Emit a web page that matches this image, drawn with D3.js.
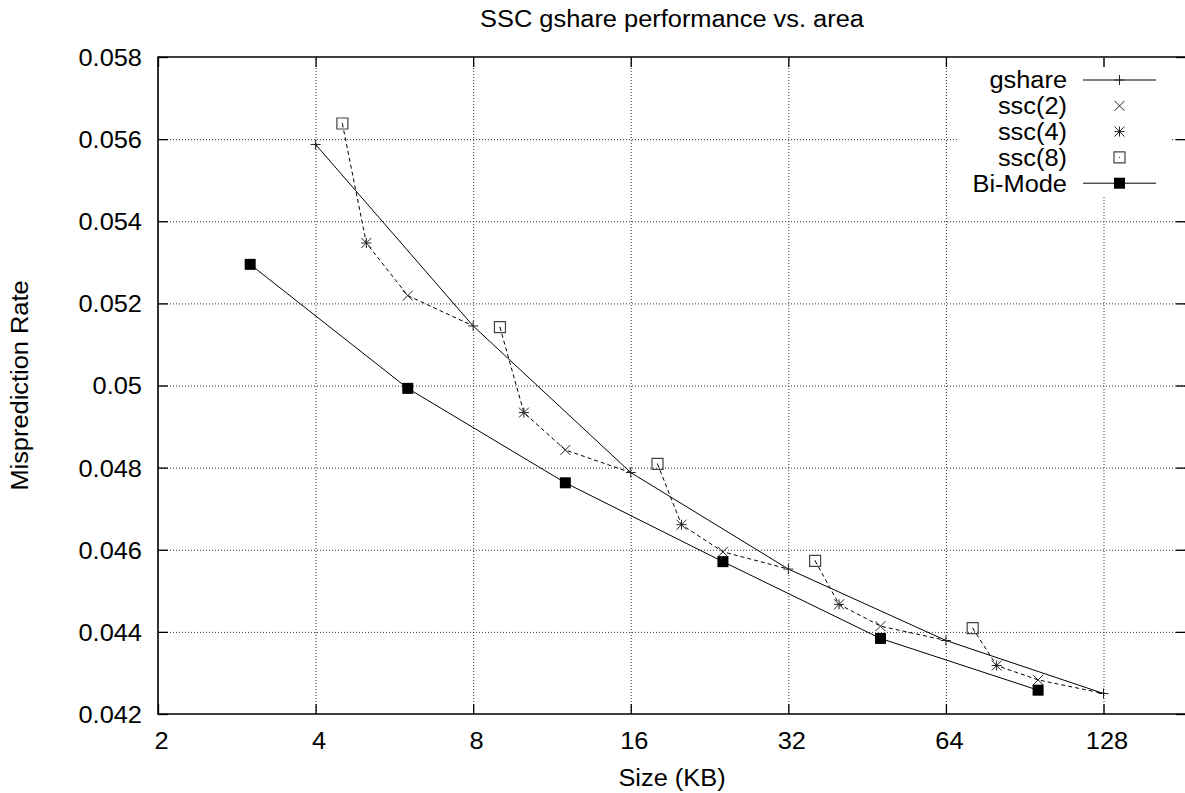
<!DOCTYPE html>
<html>
<head>
<meta charset="utf-8">
<script src="https://cdnjs.cloudflare.com/ajax/libs/d3/7.8.5/d3.min.js"></script>
<style>
  html, body { margin: 0; padding: 0; background: #fff; }
  svg text { font-family: "Liberation Sans", Arial, sans-serif; font-size: 23.3px; fill: #000; }
</style>
</head>
<body>
<svg id="chart"></svg>
<script>
(function(){

  // values
  var gshareSize = [4, 8, 16, 32, 64, 128];
  var gshareRate = [0.05587, 0.05145, 0.04788, 0.04553, 0.04379, 0.04250];
  var ssc2Size = [6, 12, 24, 48, 96];
  var ssc2Rate = [0.05219, 0.04843, 0.04595, 0.04414, 0.04283];
  var ssc4Size = [5, 10, 20, 40, 80];
  var ssc4Rate = [0.05347, 0.04934, 0.04661, 0.04467, 0.04318];
  var ssc8Size = [4.5, 9, 18, 36, 72];
  var ssc8Rate = [0.05638, 0.05142, 0.04809, 0.04573, 0.04409];
  var bimodeSize = [3, 6, 12, 24, 48, 96];
  var bimodeRate = [0.05295, 0.04993, 0.04763, 0.04571, 0.04384, 0.04258];

  var xTicks = [2, 4, 8, 16, 32, 64, 128];
  var yTicks = [0.042, 0.044, 0.046, 0.048, 0.05, 0.052, 0.054, 0.056, 0.058];
  var legendLabels = ['gshare', 'ssc(2)', 'ssc(4)', 'ssc(8)', 'Bi-Mode'];

  var titleText = 'SSC gshare performance vs. area',
      xLabel = 'Size (KB)',
      yLabel = 'Misprediction Rate';

  // layout
  var width = 1185, height = 793;
  var left = 158, top = 57, right = 1186, bottom = 714;
  var stretchX = 1.09;

  var svg = d3.select('#chart')
    .attr('width', width)
    .attr('height', height);

  var x = d3.scaleLog().base(2).domain([2, 128]).range([left, 1103.5]);
  var y = d3.scaleLinear().domain([0.042, 0.058]).range([bottom, top]);

  function zip(xs, ys) {
    return xs.map(function(v, i) { return {x: v, y: ys[i]}; });
  }

  var gshare = zip(gshareSize, gshareRate),
      ssc2 = zip(ssc2Size, ssc2Rate),
      ssc4 = zip(ssc4Size, ssc4Rate),
      ssc8 = zip(ssc8Size, ssc8Rate),
      bimode = zip(bimodeSize, bimodeRate);

  // each dashed run: ssc(8) -> ssc(4) -> ssc(2) -> the next gshare size
  var traces = ssc8.map(function(d, i) {
    return [d, ssc4[i], ssc2[i], gshare[i + 1]];
  });

  // wide-ish text like the reference, anchored where it is placed
  function stretch(sel, extra) {
    sel.each(function() {
      var t = d3.select(this);
      var tx = +t.attr('x') || 0, ty = +t.attr('y') || 0;
      t.attr('x', 0).attr('y', 0)
       .attr('transform', 'translate(' + tx + ',' + ty + ')' + (extra || '') +
             ' scale(' + stretchX + ',1)');
    });
  }

  // grid
  var gridX = svg.append('g')
    .attr('transform', 'translate(0,' + bottom + ')')
    .call(d3.axisBottom(x).tickValues(xTicks.slice(1)).tickSize(-(bottom - top)).tickFormat(''));
  var gridY = svg.append('g')
    .attr('transform', 'translate(' + left + ',0)')
    .call(d3.axisLeft(y).tickValues(yTicks.slice(1, -1)).tickSize(-(right - left)).tickFormat(''));
  [gridX, gridY].forEach(function(g) {
    g.select('.domain').remove();
    g.selectAll('line')
      .attr('stroke', '#333')
      .attr('stroke-width', 1)
      .attr('stroke-dasharray', '1,2');
  });

  // key area blanks the grid behind it
  svg.append('rect')
    .attr('x', 957).attr('y', 66)
    .attr('width', 215).attr('height', 131)
    .attr('fill', '#fff');

  // markers
  var size = 5;
  var markers = {
    plus: 'M' + (-size) + ',0H' + size + 'M0,' + (-size) + 'V' + size,
    cross: 'M' + (-size) + ',' + (-size) + 'L' + size + ',' + size +
           'M' + (-size) + ',' + size + 'L' + size + ',' + (-size),
    star: 'M' + (-size) + ',0H' + size + 'M0,' + (-size) + 'V' + size +
          'M' + (-size) + ',' + (-size) + 'L' + size + ',' + size +
          'M' + (-size) + ',' + size + 'L' + size + ',' + (-size),
    box: 'M-5.5,-5.5H5.5V5.5H-5.5Z',
    dot: 'M-0.5,-0.5H0.5V0.5H-0.5Z'
  };

  function drawMarker(g, kind) {
    if (kind == 'filled') {
      g.append('rect')
        .attr('x', -5.5).attr('y', -5.5)
        .attr('width', 11).attr('height', 11)
        .attr('fill', '#000');
    } else if (kind == 'box') {
      g.append('path').attr('d', markers.box)
        .attr('fill', 'none').attr('stroke', '#444').attr('stroke-width', 1.2);
      g.append('path').attr('d', markers.dot).attr('fill', '#333');
    } else {
      g.append('path').attr('d', markers[kind])
        .attr('fill', 'none').attr('stroke', '#222').attr('stroke-width', 1);
    }
  }

  var line = d3.line()
    .x(function(d) { return x(d.x); })
    .y(function(d) { return y(d.y); });

  svg.append('g').selectAll('path')
    .data(traces)
    .enter()
    .append('path')
    .attr('d', line)
    .attr('fill', 'none')
    .attr('stroke', '#000')
    .attr('stroke-width', 1)
    .attr('stroke-dasharray', '4,3');

  [gshare, bimode].forEach(function(s) {
    svg.append('path')
      .datum(s)
      .attr('d', line)
      .attr('fill', 'none')
      .attr('stroke', '#000')
      .attr('stroke-width', 1);
  });

  var series = [
    {data: gshare, marker: 'plus'},
    {data: ssc2, marker: 'cross'},
    {data: ssc4, marker: 'star'},
    {data: ssc8, marker: 'box'},
    {data: bimode, marker: 'filled'}
  ];

  series.forEach(function(s) {
    svg.append('g').selectAll('g')
      .data(s.data)
      .enter()
      .append('g')
      .attr('transform', function(d) {
        return 'translate(' + x(d.x) + ',' + y(d.y) + ')';
      })
      .each(function() { drawMarker(d3.select(this), s.marker); });
  });

  // axes with inward ticks, mirrored on top and right
  var fmtY = function(d) { return String(+d.toFixed(3)); };

  var axBottom = svg.append('g')
    .attr('transform', 'translate(0,' + bottom + ')')
    .call(d3.axisBottom(x).tickValues(xTicks).tickSize(-10).tickFormat(d3.format('d')));
  var axTop = svg.append('g')
    .attr('transform', 'translate(0,' + top + ')')
    .call(d3.axisTop(x).tickValues(xTicks).tickSize(-10).tickFormat(''));
  var axLeft = svg.append('g')
    .attr('transform', 'translate(' + left + ',0)')
    .call(d3.axisLeft(y).tickValues(yTicks).tickSize(-10).tickFormat(fmtY));
  var axRight = svg.append('g')
    .attr('transform', 'translate(' + right + ',0)')
    .call(d3.axisRight(y).tickValues(yTicks).tickSize(-10).tickFormat(''));

  [axBottom, axTop, axLeft, axRight].forEach(function(g) {
    g.select('.domain').remove();
    g.selectAll('line').attr('stroke', '#000').attr('stroke-width', 1.3);
    g.selectAll('text').attr('font-family', null).attr('font-size', null);
  });

  axBottom.selectAll('text')
    .attr('x', 3).attr('y', 35).attr('dy', 0)
    .attr('text-anchor', 'middle')
    .call(stretch);
  axLeft.selectAll('text')
    .attr('x', -16).attr('y', 0).attr('dy', '0.36em')
    .attr('text-anchor', 'end')
    .call(stretch);

  // border
  svg.append('path')
    .attr('d', 'M' + right + ',' + top + 'H' + left + 'V' + bottom + 'H' + right)
    .attr('fill', 'none')
    .attr('stroke', '#000')
    .attr('stroke-width', 1.6);

  // titles
  svg.append('text')
    .attr('x', (left + right) / 2).attr('y', 27)
    .attr('text-anchor', 'middle')
    .text(titleText)
    .call(stretch);

  svg.append('text')
    .attr('x', (left + right) / 2).attr('y', 786)
    .attr('text-anchor', 'middle')
    .text(xLabel)
    .call(stretch);

  svg.append('text')
    .attr('x', 28.4).attr('y', (top + bottom) / 2)
    .attr('text-anchor', 'middle')
    .text(yLabel)
    .call(stretch, ' rotate(-90)');

  // key
  var key = svg.append('g');
  var rows = key.selectAll('g')
    .data(series)
    .enter()
    .append('g')
    .attr('transform', function(d, i) {
      return 'translate(0,' + (80 + i * 25.8) + ')';
    });

  rows.append('text')
    .attr('x', 1067).attr('y', 0).attr('dy', '0.36em')
    .attr('text-anchor', 'end')
    .text(function(d, i) { return legendLabels[i]; })
    .call(stretch);

  rows.filter(function(d) { return d.marker == 'plus' || d.marker == 'filled'; })
    .append('line')
    .attr('x1', 1083).attr('x2', 1156)
    .attr('y1', 0).attr('y2', 0)
    .attr('stroke', '#000')
    .attr('stroke-width', 1);

  rows.append('g')
    .attr('transform', 'translate(1119.5,0)')
    .each(function(d) { drawMarker(d3.select(this), d.marker); });

})();
</script>
</body>
</html>
